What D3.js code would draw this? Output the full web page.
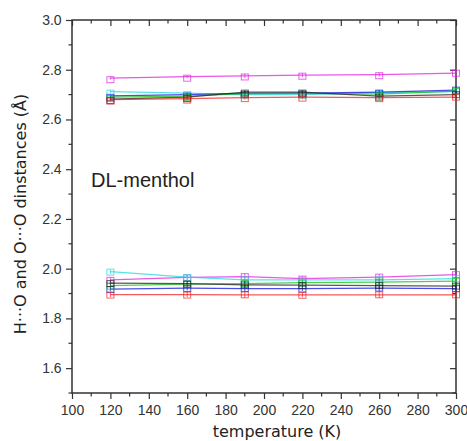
<!DOCTYPE html>
<html><head><meta charset="utf-8">
<script src="https://cdn.jsdelivr.net/npm/d3@7"></script>
<style>
html,body{margin:0;padding:0;background:#fff;}
</style></head>
<body>
<svg id="chart" width="467" height="441"></svg>
<script>
const temperatures = [120, 160, 190, 220, 260, 300];
const seriesNames = ["magenta", "cyan", "blue", "green", "black", "red"];
const seriesColors = ["#e020e0", "#20d8e0", "#1010e0", "#10c010", "#202020", "#f02020"];
// upper group (O...O)
const upperMagenta = [2.766, 2.772, 2.775, 2.778, 2.780, 2.786];
const upperCyan    = [2.712, 2.706, 2.700, 2.700, 2.708, 2.712];
const upperBlue    = [2.695, 2.700, 2.705, 2.706, 2.710, 2.718];
const upperGreen   = [2.690, 2.694, 2.704, 2.705, 2.702, 2.714];
const upperBlack   = [2.682, 2.690, 2.710, 2.710, 2.694, 2.700];
const upperRed     = [2.680, 2.684, 2.688, 2.690, 2.688, 2.690];
// lower group (H...O)
const lowerMagenta = [1.955, 1.965, 1.968, 1.960, 1.966, 1.976];
const lowerCyan    = [1.988, 1.966, 1.955, 1.955, 1.955, 1.960];
const lowerBlue    = [1.918, 1.922, 1.920, 1.920, 1.922, 1.920];
const lowerGreen   = [1.932, 1.938, 1.940, 1.944, 1.946, 1.950];
const lowerBlack   = [1.942, 1.940, 1.935, 1.934, 1.932, 1.930];
const lowerRed     = [1.896, 1.896, 1.895, 1.895, 1.895, 1.895];
const errUpper = [0.006, 0.006, 0.008, 0.008, 0.008, 0.012];
const errLower = [0.010, 0.010, 0.012, 0.010, 0.012, 0.012];
const xTicks = [100,120,140,160,180,200,220,240,260,280,300];
const yTicks = [1.6,1.8,2.0,2.2,2.4,2.6,2.8,3.0];

const upper = [upperMagenta, upperCyan, upperBlue, upperGreen, upperBlack, upperRed];
const lower = [lowerMagenta, lowerCyan, lowerBlue, lowerGreen, lowerBlack, lowerRed];

const svg = d3.select("#chart");
const L = 72, R = 456, T = 20, B = 393;
const x = d3.scaleLinear().domain([100, 300]).range([L, R]);
const y = d3.scaleLinear().domain([1.5, 3.0]).range([B, T]);

const tickFont = "'Liberation Sans Narrow','Arial Narrow','Liberation Sans',Arial,sans-serif";
const titleFont = "'DejaVu Sans',Verdana,sans-serif";

// frame
svg.append("rect").attr("x", L).attr("y", T).attr("width", R - L).attr("height", B - T)
  .attr("fill", "none").attr("stroke", "#333").attr("stroke-width", 1.5);

const xMinor = d3.range(100, 301, 10);
const yMinor = d3.range(15, 31).map(d => d / 10);

// bottom axis
const gx = svg.append("g").attr("transform", `translate(0,${B})`)
  .call(d3.axisBottom(x).tickValues(xTicks).tickFormat(d3.format("d")).tickSize(6).tickSizeOuter(0));
gx.append("g").selectAll("line").data(xMinor.filter(v => v % 20 !== 0)).join("line")
  .attr("x1", d => x(d)).attr("x2", d => x(d)).attr("y1", 0).attr("y2", 3.5);
// left axis
const gy = svg.append("g").attr("transform", `translate(${L},0)`)
  .call(d3.axisLeft(y).tickValues(yTicks).tickFormat(d3.format(".1f")).tickSize(6).tickSizeOuter(0));
gy.append("g").selectAll("line").data(yMinor.filter(v => Math.round(v * 10) % 2 === 1)).join("line")
  .attr("y1", d => y(d)).attr("y2", d => y(d)).attr("x1", 0).attr("x2", -3.5);
// top axis (inward ticks)
const gt = svg.append("g").attr("transform", `translate(0,${T})`)
  .call(d3.axisBottom(x).tickValues(xTicks).tickFormat("").tickSize(6).tickSizeOuter(0));
gt.append("g").selectAll("line").data(xMinor.filter(v => v % 20 !== 0)).join("line")
  .attr("x1", d => x(d)).attr("x2", d => x(d)).attr("y1", 0).attr("y2", 3.5);
// right axis (inward)
const gr = svg.append("g").attr("transform", `translate(${R},0)`)
  .call(d3.axisLeft(y).tickValues(yTicks).tickFormat("").tickSize(6).tickSizeOuter(0));
gr.append("g").selectAll("line").data(yMinor.filter(v => Math.round(v * 10) % 2 === 1)).join("line")
  .attr("y1", d => y(d)).attr("y2", d => y(d)).attr("x1", 0).attr("x2", -3.5);

[gx, gy, gt, gr].forEach(g => {
  g.select(".domain").remove();
  g.selectAll("line").attr("stroke", "#333").attr("stroke-width", 1.2);
  g.selectAll("text").attr("font-family", tickFont).attr("font-size", 14).attr("fill", "#333");
});
gx.selectAll("text").attr("dy", "0.95em");
gy.selectAll("text").attr("dx", "-0.1em");

const line = d3.line().x((d, i) => x(temperatures[i])).y(d => y(d));

function drawGroup(groupData, err) {
  groupData.forEach((vals, si) => {
    const c = seriesColors[si];
    const g = svg.append("g");
    g.append("path").datum(vals).attr("d", line).attr("fill", "none")
      .attr("stroke", c).attr("stroke-width", 1.2).attr("opacity", 0.75);
    const pts = g.selectAll("g.pt").data(vals).join("g").attr("class", "pt");
    pts.append("line")
      .attr("x1", (d, i) => x(temperatures[i])).attr("x2", (d, i) => x(temperatures[i]))
      .attr("y1", (d, i) => y(d + err[i])).attr("y2", (d, i) => y(d - err[i]))
      .attr("stroke", c).attr("stroke-width", 1).attr("opacity", 0.7);
    pts.append("rect")
      .attr("x", (d, i) => x(temperatures[i]) - 3.5)
      .attr("y", (d, i) => y(d + err[i]))
      .attr("width", 7)
      .attr("height", (d, i) => Math.max(6, y(d - err[i]) - y(d + err[i])))
      .attr("fill", "none").attr("stroke", c).attr("stroke-width", 1).attr("opacity", 0.7);
  });
}
drawGroup(upper, errUpper);
drawGroup(lower, errLower);

// annotation
svg.append("text").attr("x", 91).attr("y", 187).text("DL-menthol")
  .attr("font-family", "'Liberation Sans',Arial,sans-serif").attr("font-size", 20).attr("fill", "#222");

// axis titles
svg.append("text").attr("x", 277).attr("y", 437).attr("text-anchor", "middle")
  .text("temperature (K)").attr("font-family", titleFont).attr("font-size", 16).attr("fill", "#222");
svg.append("text").attr("transform", "translate(26,214) rotate(-90)").attr("text-anchor", "middle")
  .text("H···O and O···O dinstances (Å)").attr("font-family", titleFont).attr("font-size", 16).attr("fill", "#222");
</script>
</body></html>
